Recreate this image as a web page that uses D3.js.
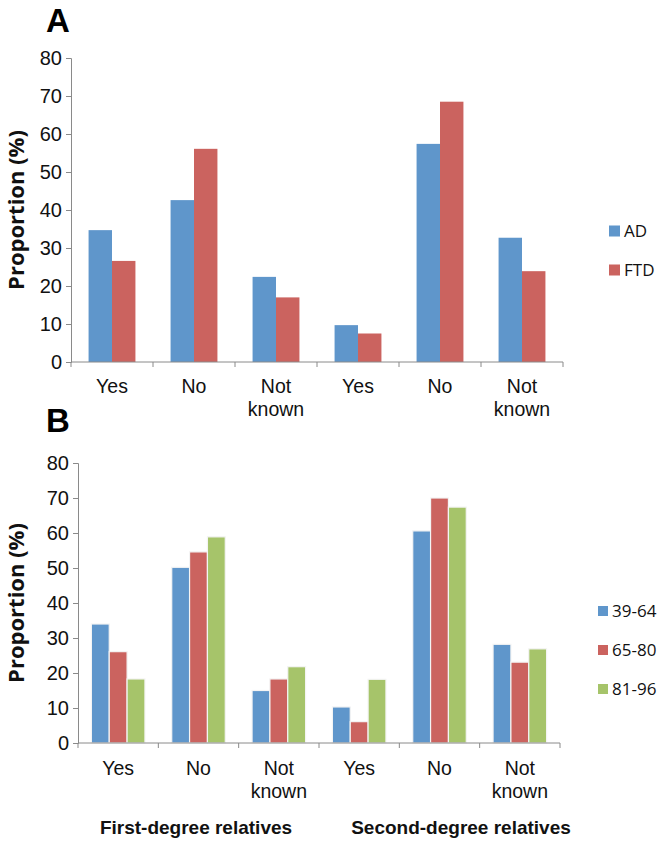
<!DOCTYPE html>
<html><head><meta charset="utf-8">
<script src="https://cdn.jsdelivr.net/npm/d3@7"></script>
<style>body{margin:0;background:#fff}svg{display:block}</style>
</head><body><svg id="c" width="664" height="849"></svg>
<script>
const categories = ["Yes","No","Not known","Yes","No","Not known"];
const seriesA = ["AD","FTD"];
const valuesA_AD  = [34.7, 42.6, 22.4, 9.7, 57.4, 32.7];
const valuesA_FTD = [26.6, 56.1, 17.0, 7.5, 68.5, 23.9];
const seriesB = ["39-64","65-80","81-96"];
const valuesB_39 = [34.0, 50.2, 15.0, 10.3, 60.6, 28.2];
const valuesB_65 = [26.1, 54.6, 18.3, 6.1, 70.0, 23.1];
const valuesB_81 = [18.3, 58.9, 21.8, 18.2, 67.4, 26.9];
const yTicks = [0,10,20,30,40,50,60,70,80];
const groupTitles = ["First-degree relatives","Second-degree relatives"];
const colors = ["#5F96CB","#CB635F","#A6C46A"];

const svg = d3.select("#c");
const fontA = "'Liberation Sans', Arial, sans-serif";
const fontL = "'Open Sans', 'Noto Sans', sans-serif";

function panel(opt){
  const g = svg.append("g");
  const x = d3.scaleBand().domain(d3.range(categories.length)).range([opt.x0, opt.x1]).paddingInner(0).paddingOuter(0);
  const y = d3.scaleLinear().domain([0,80]).range([opt.y0, opt.y1]);
  const n = opt.series.length;
  const step = x.bandwidth();
  const bw = step / (n + 1.5);
  const xs = d3.scaleBand().domain(d3.range(n)).range([0.75*bw, 0.75*bw + n*bw]).padding(0);

  opt.series.forEach((s,si)=>{
    const vals = opt.values[si];
    g.selectAll(null).data(vals).enter().append("rect")
      .attr("x",(d,i)=>x(i)+xs(si))
      .attr("y",d=>y(d))
      .attr("width",xs.bandwidth())
      .attr("height",d=>y(0)-y(d))
      .attr("fill",colors[si])
      .attr("stroke", opt.outline ? "#f4f4f4" : "none")
      .attr("stroke-width", opt.outline ? 1.2 : 0);
  });

  const ya = d3.axisLeft(y).tickValues(yTicks).tickSize(5).tickPadding(4);
  const yg = g.append("g").attr("transform",`translate(${opt.x0},0)`).call(ya);
  yg.select(".domain").attr("stroke","#8a8a8a");
  yg.selectAll(".tick line").attr("stroke","#8a8a8a");
  yg.selectAll(".tick text").attr("font-family",fontA).attr("font-size",20).attr("fill","#111");

  const xa = d3.axisBottom(x).tickSize(0).tickFormat("");
  const xg = g.append("g").attr("transform",`translate(0,${opt.y0})`).call(xa);
  xg.select(".domain").attr("stroke","#8a8a8a").attr("d",`M${opt.x0},0H${opt.x1}`);
  const bounds = d3.range(categories.length+1).map(i=> i<categories.length ? x(i) : opt.x1);
  xg.selectAll(".bt").data(bounds).enter().append("line")
    .attr("x1",d=>d).attr("x2",d=>d).attr("y1",0).attr("y2",5).attr("stroke","#8a8a8a");

  categories.forEach((c,i)=>{
    const parts = c === "Not known" ? ["Not","known"] : [c];
    const t = g.append("text").attr("font-family",fontA).attr("font-size",19.5).attr("fill","#111")
      .attr("text-anchor","middle");
    parts.forEach((p,k)=>{
      t.append("tspan").attr("x", x(i)+step/2).attr("y", opt.y0 + opt.labOff + k*23).text(p);
    });
  });

  g.append("text").attr("transform",`translate(${opt.titleX},${(opt.y0+opt.y1)/2}) rotate(-90)`)
    .attr("text-anchor","middle").attr("font-family",fontL).attr("font-weight","bold")
    .attr("font-size",22).attr("fill","#111").text("Proportion (%)");

  g.append("text").attr("x",opt.letterX).attr("y",opt.letterY).attr("font-family",fontA)
    .attr("font-weight","bold").attr("font-size",33).attr("fill","#000").text(opt.letter);

  opt.series.forEach((s,si)=>{
    const ly = opt.legY + si*opt.legStep;
    g.append("rect").attr("x",opt.legX).attr("y",ly-opt.legSq/2).attr("width",opt.legSq).attr("height",opt.legSq).attr("fill",colors[si]);
    g.append("text").attr("x",opt.legX+opt.legSq+4).attr("y",ly).attr("dy","0.36em")
      .attr("font-family",fontL).attr("font-size",17).attr("fill","#111").text(s);
  });
  return x;
}

panel({x0:71, x1:563, y0:362, y1:58, series:seriesA, values:[valuesA_AD,valuesA_FTD],
  outline:false, labOff:31, titleX:24, letter:"A", letterX:46, letterY:32,
  legX:609, legY:231, legStep:39, legSq:11});

panel({x0:78, x1:560, y0:743, y1:463, series:seriesB, values:[valuesB_39,valuesB_65,valuesB_81],
  outline:true, labOff:32, titleX:24, letter:"B", letterX:46, letterY:432,
  legX:598, legY:611, legStep:39, legSq:10});

[196, 461].forEach((cx,i)=>{
  svg.append("text").attr("x",cx).attr("y",834).attr("text-anchor","middle")
    .attr("font-family",fontA).attr("font-weight","bold").attr("font-size",19).attr("fill","#111")
    .text(groupTitles[i]);
});
</script></body></html>
